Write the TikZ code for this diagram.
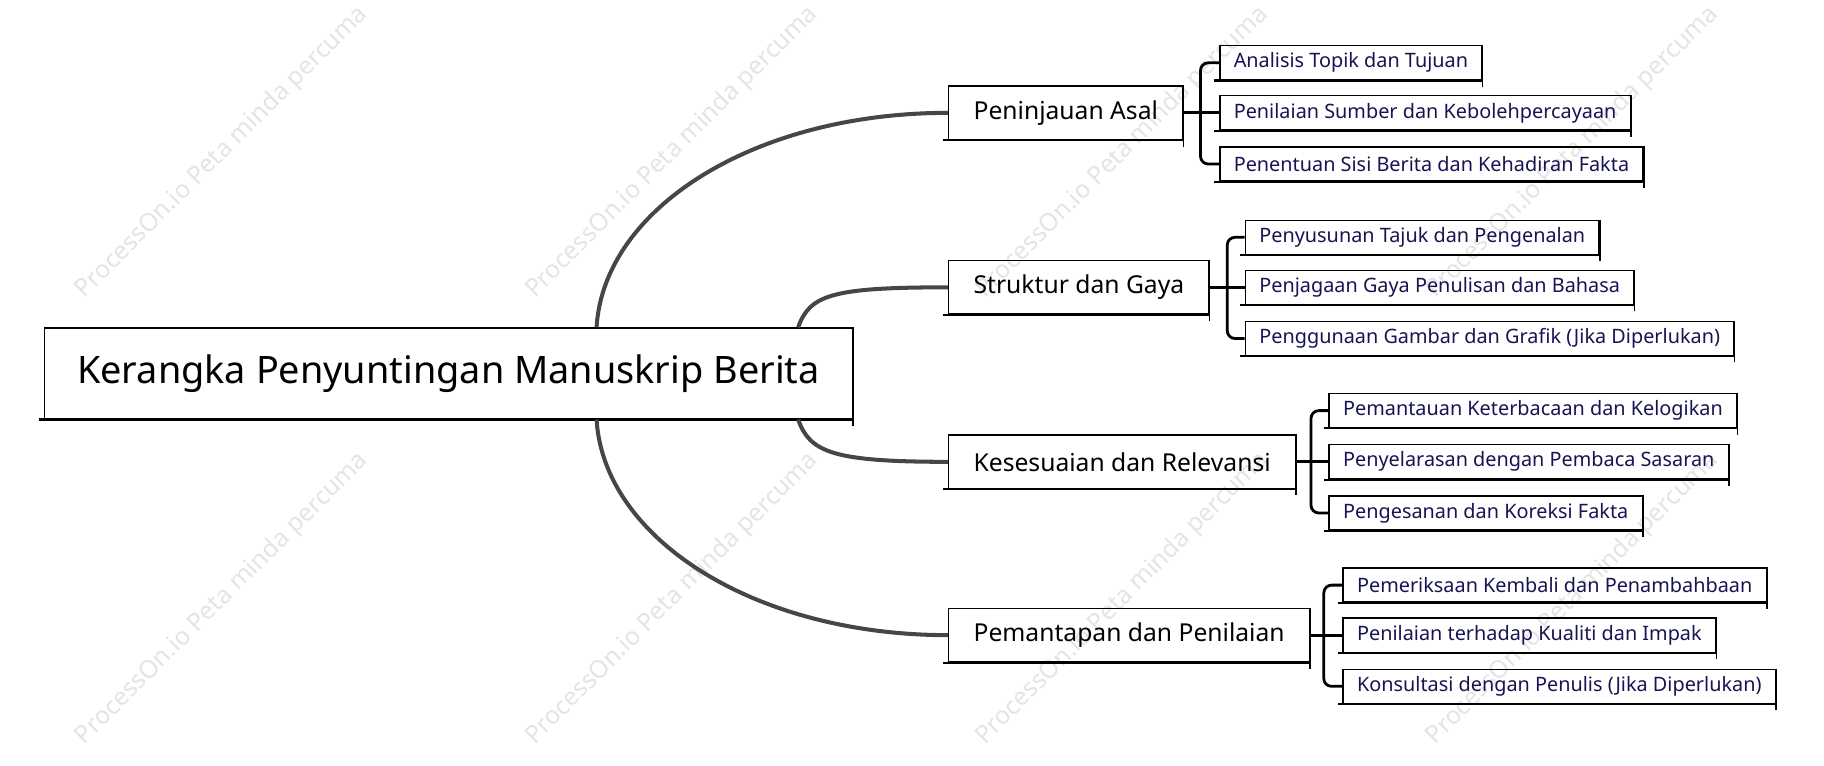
\documentclass[tikz,border=0pt]{standalone}
\usepackage{fontspec}
\setmainfont{Noto Sans}
\usetikzlibrary{calc,positioning}
\definecolor{mynavy}{RGB}{22,20,82}
\definecolor{mygray}{RGB}{70,70,70}
\definecolor{mymark}{RGB}{228,228,228}

\tikzset{
  sketch/.style={draw=black, line width=0.9pt,
    append after command={
      (\tikzlastnode.south west) edge[line width=1.4pt, shorten <=-3pt] (\tikzlastnode.south east)
      (\tikzlastnode.north east) edge[line width=0.9pt, shorten >=-4pt] (\tikzlastnode.south east)}},
  rootbox/.style={sketch, font=\fontsize{24.4}{28}\selectfont, minimum width=521pt, minimum height=58.5pt},
  topic/.style={sketch, anchor=west, font=\fontsize{15.9}{19}\selectfont, inner xsep=16pt, minimum height=34.5pt},
  leaf/.style={sketch, anchor=west, text=mynavy, font=\fontsize{12.8}{15}\selectfont, inner xsep=9pt, minimum height=22pt},
  branch/.style={draw=mygray, line width=2.6pt},
  bracket/.style={draw=black, line width=1.8pt, rounded corners=5pt},
  wmark/.style={text=mymark, rotate=45, font=\fontsize{16}{19}\selectfont}
}

\begin{document}
\begin{tikzpicture}[x=0.75pt, y=-0.75pt]
  \useasboundingbox (0,0) rectangle (1568,658);
  % watermark
  \node[wmark] (wm1) at (191,131) {ProcessOn.io Peta minda percuma};
  \node[wmark] (wm2) at (578,131) {ProcessOn.io Peta minda percuma};
  \node[wmark] (wm3) at (965,131) {ProcessOn.io Peta minda percuma};
  \node[wmark] (wm4) at (1352,131) {ProcessOn.io Peta minda percuma};
  \node[wmark] (wm5) at (191,515) {ProcessOn.io Peta minda percuma};
  \node[wmark] (wm6) at (578,515) {ProcessOn.io Peta minda percuma};
  \node[wmark] (wm7) at (965,515) {ProcessOn.io Peta minda percuma};
  \node[wmark] (wm8) at (1352,515) {ProcessOn.io Peta minda percuma};

  % root and main topics
  \node[rootbox] (root) at (385.5,321) {Kerangka Penyuntingan Manuskrip Berita};
  \node[topic] (pa) at (815,97) {Peninjauan Asal};
  \node[topic] (sg) at (815,247) {Struktur dan Gaya};
  \node[topic] (kr) at (815,397) {Kesesuaian dan Relevansi};
  \node[topic] (pp) at (815,546) {Pemantapan dan Penilaian};

  \draw[branch] ($(root.north west)!0.683!(root.north east)$) .. controls +(6,-102) and +(-167,0) .. (pa.west);
  \draw[branch] ($(root.north west)!0.932!(root.north east)$) .. controls +(10,-28) and +(-100,0) .. (sg.west);
  \draw[branch] ($(root.south west)!0.932!(root.south east)$) .. controls +(10,28) and +(-100,0) .. (kr.west);
  \draw[branch] ($(root.south west)!0.683!(root.south east)$) .. controls +(6,102) and +(-167,0) .. (pp.west);

  % Peninjauan Asal
  \node[leaf] (pa1) at (1048,54) {Analisis Topik dan Tujuan};
  \node[leaf] (pa2) at (1048,97) {Penilaian Sumber dan Kebolehpercayaan};
  \node[leaf] (pa3) at (1048,141) {Penentuan Sisi Berita dan Kehadiran Fakta};
  \coordinate (pa-j) at (1032,97);
  \draw[bracket] (pa.east) -- (pa2.west);
  \draw[bracket] (pa-j) |- (pa1.west);
  \draw[bracket] (pa-j) |- (pa3.west);

  % Struktur dan Gaya
  \node[leaf] (sg1) at (1070,204) {Penyusunan Tajuk dan Pengenalan};
  \node[leaf] (sg2) at (1070,247) {Penjagaan Gaya Penulisan dan Bahasa};
  \node[leaf] (sg3) at (1070,291) {Penggunaan Gambar dan Grafik (Jika Diperlukan)};
  \coordinate (sg-j) at (1055,247);
  \draw[bracket] (sg.east) -- (sg2.west);
  \draw[bracket] (sg-j) |- (sg1.west);
  \draw[bracket] (sg-j) |- (sg3.west);

  % Kesesuaian dan Relevansi
  \node[leaf] (kr1) at (1142,353) {Pemantauan Keterbacaan dan Kelogikan};
  \node[leaf] (kr2) at (1142,397) {Penyelarasan dengan Pembaca Sasaran};
  \node[leaf] (kr3) at (1142,441) {Pengesanan dan Koreksi Fakta};
  \coordinate (kr-j) at (1127,397);
  \draw[bracket] (kr.east) -- (kr2.west);
  \draw[bracket] (kr-j) |- (kr1.west);
  \draw[bracket] (kr-j) |- (kr3.west);

  % Pemantapan dan Penilaian
  \node[leaf] (pp1) at (1154,503) {Pemeriksaan Kembali dan Penambahbaan};
  \node[leaf] (pp2) at (1154,546) {Penilaian terhadap Kualiti dan Impak};
  \node[leaf] (pp3) at (1154,590) {Konsultasi dengan Penulis (Jika Diperlukan)};
  \coordinate (pp-j) at (1138,546);
  \draw[bracket] (pp.east) -- (pp2.west);
  \draw[bracket] (pp-j) |- (pp1.west);
  \draw[bracket] (pp-j) |- (pp3.west);
\end{tikzpicture}
\end{document}
